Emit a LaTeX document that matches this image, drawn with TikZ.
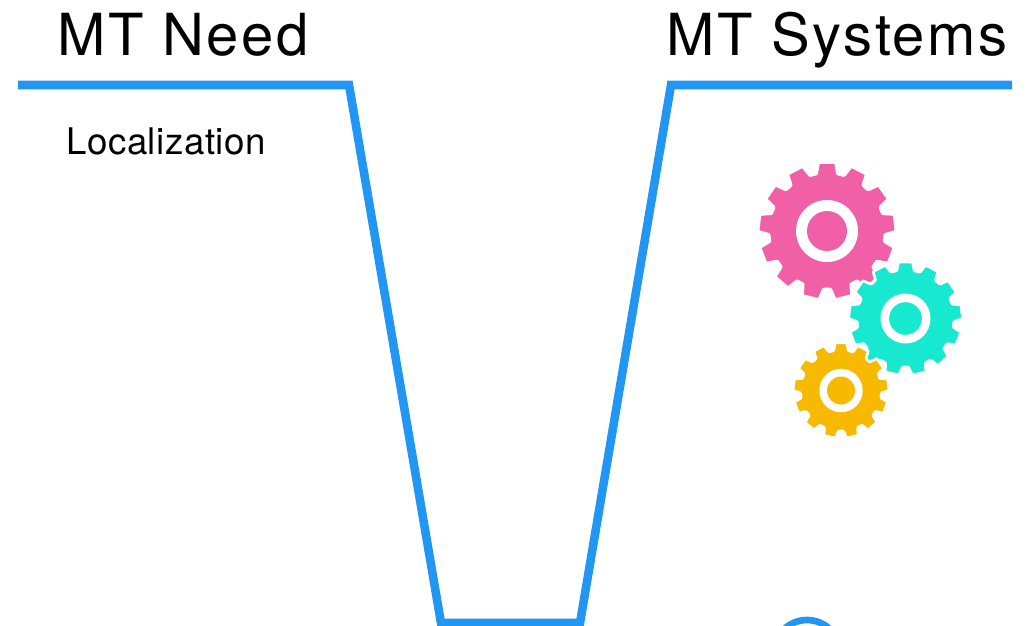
\documentclass[tikz,border=0pt]{standalone}
\usepackage{fontspec}
\setmainfont{TeX Gyre Heros}
\newfontfamily\headfont[LetterSpace=4.5]{TeX Gyre Heros}
\newfontfamily\subfont[LetterSpace=1.5]{TeX Gyre Heros}

\definecolor{lineblue}{HTML}{2196F3}
\definecolor{gearpink}{HTML}{F15FA6}
\definecolor{gearteal}{HTML}{16E9D0}
\definecolor{gearyellow}{HTML}{F8BA00}

\tikzset{
	channel/.style={draw=lineblue, line width=6.4pt, miter limit=10},
	heading/.style={anchor=base west, inner sep=0pt, font=\headfont\fontsize{43.5}{50}\selectfont},
	subheading/.style={anchor=base west, inner sep=0pt, font=\subfont\fontsize{27.5}{32}\selectfont},
	gearbody/.style={fill=#1, draw=white, line width=2pt, rounded corners=0.6pt}
}

\usetikzlibrary{calc}

% centre, tip radius, root radius, ring radius, hole radius, colour
\newcommand{\gearwheel}[7]{
	\fill[gearbody=#7] (#1,#2) ++(-97:#3)
		\foreach \k in {0,...,12} {
			-- ($(#1,#2)+(-97+\k*27.692:#3)$)
			-- ($(#1,#2)+(-83+\k*27.692:#3)$)
			-- ($(#1,#2)+(-79.65+\k*27.692:#4)$)
			-- ($(#1,#2)+(-72.65+\k*27.692:#4)$)
		} -- cycle;
	\fill[white] (#1,#2) circle (#5);
	\fill[#7] (#1,#2) circle (#6);
}

\begin{document}
\begin{tikzpicture}[x=0.75pt, y=-0.75pt]
	\useasboundingbox (0,0) rectangle (1028,625);
	\clip (0,0) rectangle (1028,625);

	\node[heading] (need) at (57,55) {MT Need};
	\node[heading] (systems) at (666,55) {MT Systems};
	\node[subheading] (localization) at (66,154) {Localization};

	\coordinate (a) at (18,85);
	\coordinate (b) at (349,85);
	\coordinate (c) at (441,623);
	\coordinate (d) at (580,623);
	\coordinate (e) at (671,85);
	\coordinate (f) at (1012,85);
	\draw[channel] (a) -- (b) -- (c) -- (d) -- (e) -- (f);

	\gearwheel{827}{231}{69}{58}{31}{20}{gearpink}
	\gearwheel{905.5}{318.5}{57}{48.5}{25}{16.3}{gearteal}
	\gearwheel{841}{390.5}{48}{40.5}{21.7}{14}{gearyellow}

	\coordinate (lamp) at (807,653);
	\draw[lineblue, line width=5pt] (lamp) circle (33);
\end{tikzpicture}
\end{document}
